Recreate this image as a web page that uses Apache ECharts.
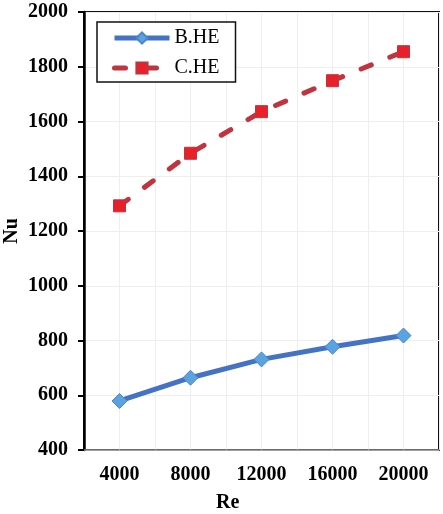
<!DOCTYPE html>
<html>
<head>
<meta charset="utf-8">
<script src="https://cdn.jsdelivr.net/npm/echarts@6/dist/echarts.min.js"></script>
<style>
  html, body { margin: 0; padding: 0; background: #fff; }
  #chart { width: 443px; height: 514px; }
</style>
</head>
<body>
<div id="chart"></div>
<script>
// Re values (x axis)
const reValues = [4000, 8000, 12000, 16000, 20000];
// Nu values
const bheValues = [579, 664, 731, 777, 818];
const cheValues = [1292, 1484, 1636, 1749, 1855];
// labelled ticks on the x axis
const xTickLabels = [4000, 8000, 12000, 16000, 20000];

const font = "'Liberation Serif', 'Times New Roman', serif";

const chart = echarts.init(document.getElementById('chart'));

function pairs(xs, ys) {
  return xs.map((x, i) => [x, ys[i]]);
}

chart.setOption({
  animation: false,
  backgroundColor: '#fff',
  grid: {
    left: 84,
    right: 4,
    top: 12,
    bottom: 64,
    containLabel: false,
    outerBoundsMode: 'none',
    show: true,
    borderColor: '#111',
    borderWidth: 2
  },
  legend: {
    orient: 'vertical',
    left: 97,
    top: 22,
    width: 139,
    padding: [6, 16, 4, 15],
    itemWidth: 55,
    itemHeight: 14,
    itemGap: 10,
    borderColor: '#111',
    borderWidth: 1.5,
    backgroundColor: '#fff',
    lineStyle: {width: 5},
    textStyle: {fontFamily: font, fontSize: 20, color: '#000'},
    data: ['B.HE', 'C.HE']
  },
  xAxis: {
    type: 'value',
    min: 2000,
    max: 22000,
    interval: 2000,
    axisLine: {lineStyle: {color: '#888', width: 1.5}},
    axisTick: {show: false},
    axisLabel: {
      margin: 15,
      fontFamily: font,
      fontWeight: 'bold',
      fontSize: 20,
      color: '#000',
      formatter: v => (xTickLabels.indexOf(v) >= 0 ? String(v) : '')
    },
    splitLine: {show: true, lineStyle: {color: '#eee', width: 1}}
  },
  yAxis: {
    type: 'value',
    min: 400,
    max: 2000,
    interval: 200,
    name: 'Nu',
    nameLocation: 'middle',
    nameGap: 62,
    nameMoveOverlap: false,
    nameTextStyle: {fontFamily: font, fontWeight: 'bold', fontSize: 20, color: '#000'},
    axisLine: {show: true, lineStyle: {color: '#000', width: 2.5}},
    axisTick: {show: true, inside: false, length: 6, lineStyle: {color: '#000', width: 2}},
    axisLabel: {
      margin: 16,
      fontFamily: font,
      fontWeight: 'bold',
      fontSize: 20,
      color: '#000',
      formatter: v => String(v)
    },
    splitLine: {show: true, lineStyle: {color: '#eee', width: 1}}
  },
  graphic: [{
    type: 'text',
    left: 216,
    top: 493,
    style: {text: 'Re', fontFamily: font, fontWeight: 'bold', fontSize: 20, fill: '#000'}
  }],
  series: [
    {
      name: 'B.HE',
      type: 'line',
      data: pairs(reValues, bheValues),
      symbol: 'diamond',
      symbolSize: 15,
      lineStyle: {color: '#4472C4', width: 5},
      itemStyle: {color: '#5BA3E0', borderColor: '#4A86C8', borderWidth: 1},
      z: 3
    },
    {
      name: 'C.HE',
      type: 'line',
      data: pairs(reValues, cheValues),
      symbol: 'rect',
      symbolSize: 12,
      lineStyle: {color: '#C0343F', width: 5, type: [11, 20], cap: 'round'},
      itemStyle: {color: '#E8202A', borderColor: '#C0343F', borderWidth: 1},
      z: 3
    }
  ]
});
</script>
</body>
</html>
